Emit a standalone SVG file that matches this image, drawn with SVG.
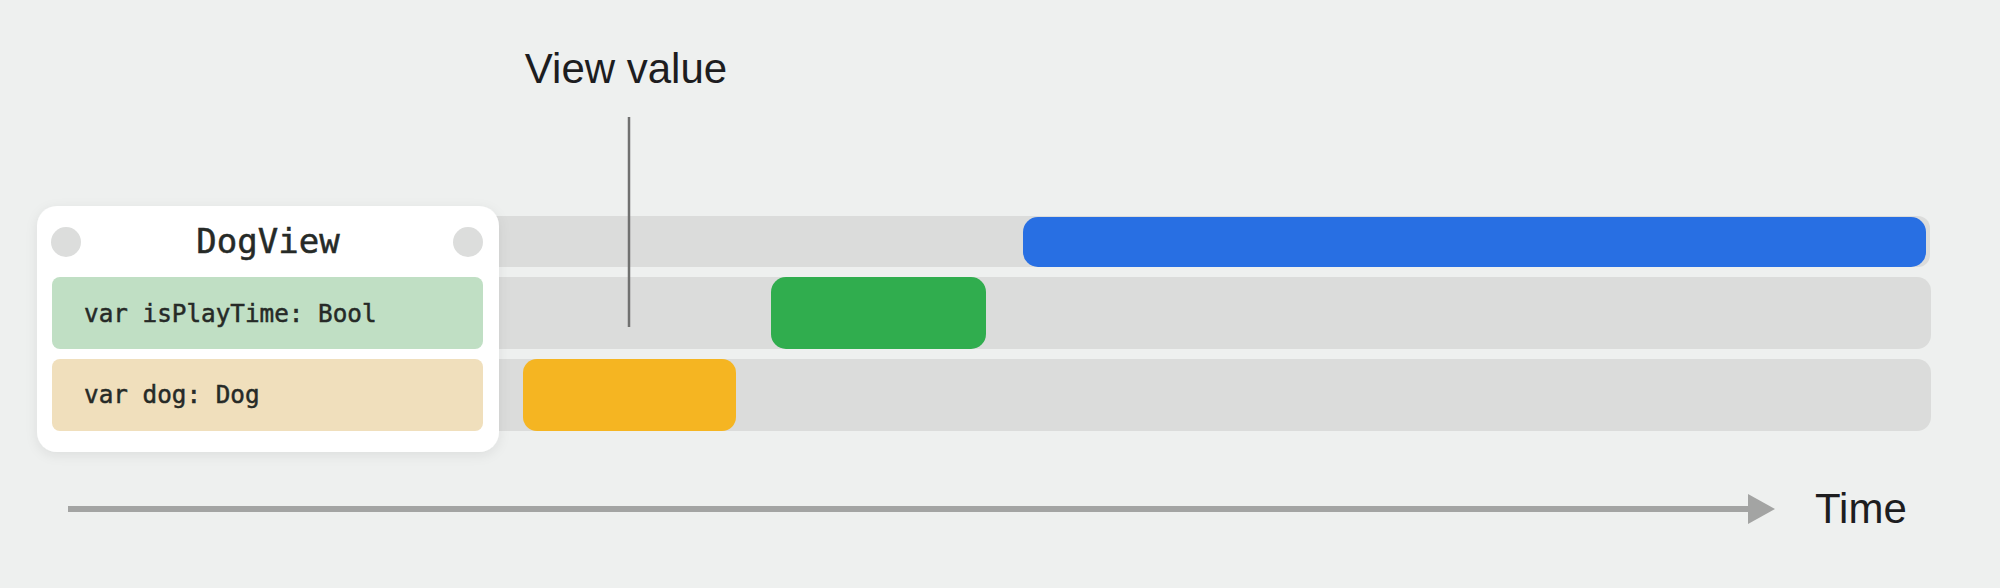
<svg xmlns="http://www.w3.org/2000/svg" width="2000" height="588" viewBox="0 0 2000 588">
<defs>
<style>
.track{fill:#dbdcdb}
.mono{font-family:"DejaVu Sans Mono","Liberation Mono",monospace;fill:#262a27;stroke:#262a27;stroke-width:0.5}
.sans{font-family:"Liberation Sans",Arial,sans-serif;fill:#1d1d1f}
</style>
<filter id="sh" x="-10%" y="-10%" width="120%" height="130%">
<feDropShadow dx="0" dy="3" stdDeviation="6" flood-color="#000" flood-opacity="0.08"/>
</filter>
<marker id="ah" markerWidth="27" markerHeight="30" refX="0" refY="15" orient="auto" markerUnits="userSpaceOnUse">
<path d="M0,0 L27,15 L0,30 Z" fill="#a3a4a3"/>
</marker>
</defs>
<rect width="2000" height="588" fill="#eef0ef"/>
<g id="tracks">
<rect class="track" x="60" y="216" width="1870" height="51" rx="12"/>
<rect class="track" x="60" y="277" width="1871" height="72" rx="14"/>
<rect class="track" x="60" y="359" width="1871" height="72" rx="14"/>
</g>
<g id="bars">
<rect x="1023" y="217" width="903" height="50" rx="15" fill="#286fe3"/>
<rect x="771" y="277" width="215" height="72" rx="15" fill="#30ad4e"/>
<rect x="523" y="359" width="213" height="72" rx="14" fill="#f5b522"/>
</g>
<g id="dogview">
<rect x="37" y="206" width="462" height="246" rx="20" fill="#ffffff" filter="url(#sh)"/>
<circle cx="66" cy="242" r="15" fill="#dcdddc"/>
<circle cx="468" cy="242" r="15" fill="#dcdddc"/>
<text class="mono" x="268" y="253" font-size="34" text-anchor="middle">DogView</text>
<rect x="52" y="277" width="431" height="72" rx="8" fill="#c0dfc4"/>
<text class="mono" x="84" y="322" font-size="24.3">var isPlayTime: Bool</text>
<rect x="52" y="359" width="431" height="72" rx="8" fill="#f0dfbc"/>
<text class="mono" x="84" y="403" font-size="24.3">var dog: Dog</text>
</g>
<g id="view-value">
<text class="sans" x="626" y="83" font-size="42" text-anchor="middle">View value</text>
</g>
<g id="connectors">
<line x1="629" y1="117" x2="629" y2="327" stroke="#707170" stroke-width="2.5"/>
<line x1="68" y1="509" x2="1748" y2="509" stroke="#a3a4a3" stroke-width="6" marker-end="url(#ah)"/>
</g>
<g id="time">
<text class="sans" x="1815" y="523" font-size="42">Time</text>
</g>
</svg>
